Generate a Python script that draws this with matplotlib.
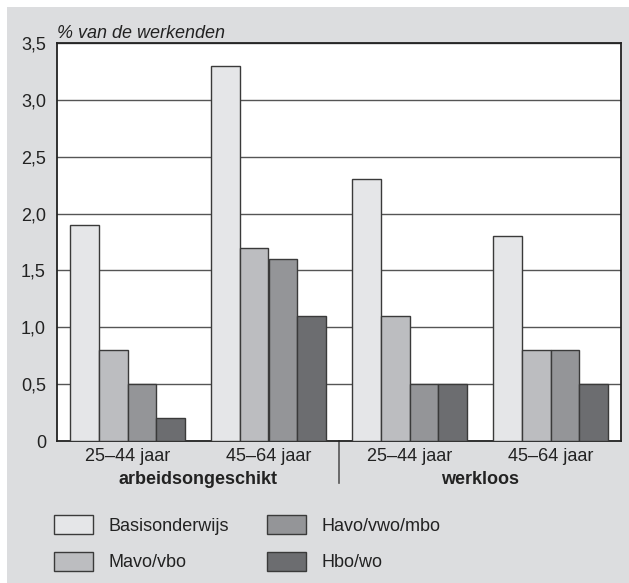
import matplotlib
matplotlib.use("Agg")
import matplotlib.pyplot as plt
from matplotlib.patches import Rectangle
from matplotlib.lines import Line2D
import numpy as np

plt.rcParams['font.family'] = ['Liberation Sans', 'DejaVu Sans']

# Data
age_labels = ["25–44 jaar", "45–64 jaar", "25–44 jaar", "45–64 jaar"]
group_labels = ["arbeidsongeschikt", "werkloos"]
series_names = ["Basisonderwijs", "Mavo/vbo", "Havo/vwo/mbo", "Hbo/wo"]
basisonderwijs = [1.9, 3.3, 2.3, 1.8]
mavo_vbo = [0.8, 1.7, 1.1, 0.8]
havo_vwo_mbo = [0.5, 1.6, 0.5, 0.8]
hbo_wo = [0.2, 1.1, 0.5, 0.5]
yticks = [0, 0.5, 1.0, 1.5, 2.0, 2.5, 3.0, 3.5]
ytick_labels = ["0", "0,5", "1,0", "1,5", "2,0", "2,5", "3,0", "3,5"]

colors = ["#e5e6e8", "#bcbdc0", "#949598", "#6c6d70"]
edge = "#3a3a3a"

W, H = 629, 583
fig = plt.figure(figsize=(W / 100, H / 100), dpi=100)
fig.patch.set_facecolor("white")
fig.patches.append(Rectangle((7 / W, 0), (W - 7) / W, (H - 7) / H,
                             transform=fig.transFigure, facecolor="#dcdddf",
                             edgecolor="none", zorder=-10))

ax = fig.add_axes([57 / W, (H - 441) / H, (621 - 57) / W, (441 - 43) / H])
ax.set_facecolor("white")

x = np.arange(len(age_labels))
bw = 0.205
all_series = [basisonderwijs, mavo_vbo, havo_vwo_mbo, hbo_wo]
for i, (vals, name, c) in enumerate(zip(all_series, series_names, colors)):
    ax.bar(x + (i - 1.5) * bw, vals, width=bw, color=c, edgecolor=edge,
           linewidth=1.0, label=name, zorder=3)

ax.set_xlim(-0.5, 3.5)
ax.set_ylim(0, 3.5)
ax.set_yticks(yticks)
ax.set_yticklabels(ytick_labels)
ax.yaxis.grid(True, color="#555555", linewidth=1.0, zorder=0)
ax.set_axisbelow(True)
ax.tick_params(axis="y", length=0, pad=8, labelsize=13, colors="#222222")
ax.set_xticks(x)
ax.set_xticklabels(age_labels)
ax.tick_params(axis="x", length=0, pad=5, labelsize=13, colors="#222222")
for s in ax.spines.values():
    s.set_color("#222222")
    s.set_linewidth(1.3)

# Group labels
trans = ax.get_xaxis_transform()
ax.text(0.5, -38 / 398, group_labels[0], transform=trans, ha="center", va="center",
        fontsize=13, fontweight="bold", color="#222222")
ax.text(2.5, -38 / 398, group_labels[1], transform=trans, ha="center", va="center",
        fontsize=13, fontweight="bold", color="#222222")
ax.add_line(Line2D([1.5, 1.5], [0, -42 / 398], transform=trans, color="#555555",
                   linewidth=1.2, clip_on=False))

# Y label
fig.text(57 / W, 1 - 33 / H, "% van de werkenden", ha="left", va="center",
         fontsize=13, fontstyle="italic", color="#222222")

# Legend
handles, labels = ax.get_legend_handles_labels()
leg = fig.legend(handles, labels, ncol=2, loc="upper left",
                 bbox_to_anchor=(54 / W, 1 - 515 / H), frameon=False,
                 fontsize=13, handlelength=2.17, handleheight=1.28,
                 handletextpad=0.85, columnspacing=2.1, labelspacing=0.93,
                 borderpad=0, borderaxespad=0)
for t in leg.get_texts():
    t.set_color("#222222")

fig.savefig("out.png", dpi=100)
